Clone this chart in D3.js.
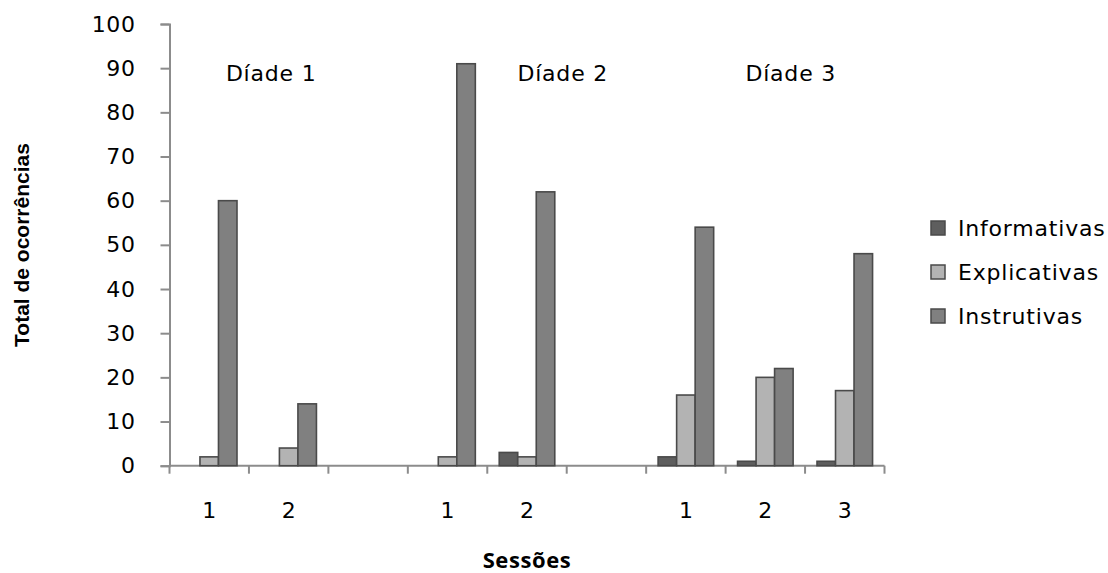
<!DOCTYPE html>
<html>
<head>
<meta charset="utf-8">
<script src="https://cdn.jsdelivr.net/npm/d3@7"></script>
<style>
  html, body { margin: 0; padding: 0; background: #fff; }
  svg { display: block; }
</style>
</head>
<body>
<svg id="chart" width="1108" height="573"></svg>
<script>
// Session labels along the x axis (blank slots separate the dyads)
const sessions = ["1", "2", "", "1", "2", "", "1", "2", "3"];
const seriesNames = ["Informativas", "Explicativas", "Instrutivas"];
const informativas = [0, 0, null, 0, 3, null, 2, 1, 1];
const explicativas = [2, 4, null, 2, 2, null, 16, 20, 17];
const instrutivas  = [60, 14, null, 91, 62, null, 54, 22, 48];
const yTicks = [0, 10, 20, 30, 40, 50, 60, 70, 80, 90, 100];
const groupLabels = ["Díade 1", "Díade 2", "Díade 3"];

const seriesValues = [informativas, explicativas, instrutivas];
const fills = ["#5e5e5e", "#b3b3b3", "#808080"];
const strokeCol = "#4a4a4a";

const svg = d3.select("#chart");
const plot = { left: 169.5, right: 884.5, top: 24, bottom: 465.7 };

const x = d3.scaleBand()
  .domain(d3.range(sessions.length))
  .range([plot.left, plot.right])
  .padding(0);

const xs = d3.scaleBand()
  .domain(d3.range(seriesNames.length))
  .range([0, x.bandwidth()])
  .paddingInner(0)
  .paddingOuter(0.645);

const y = d3.scaleLinear().domain([0, 100]).range([plot.bottom, plot.top]);

const axisColor = "#8c8c8c";
const font = "'DejaVu Sans', Verdana, sans-serif";
const textSize = "22px";
const spacing = "0.8px";

// Y axis
const yAxis = svg.append("g")
  .attr("transform", `translate(${plot.left},0)`)
  .call(d3.axisLeft(y).tickValues(yTicks).tickSize(9).tickPadding(25).tickFormat(d3.format("d")));
yAxis.select(".domain").attr("stroke", axisColor).attr("stroke-width", 2);
yAxis.selectAll(".tick line").attr("stroke", axisColor).attr("stroke-width", 2);
yAxis.selectAll(".tick text")
  .attr("fill", "#000")
  .style("font-family", font)
  .style("font-size", textSize)
  .style("letter-spacing", "0.6px");

// X axis: ticks at category boundaries, labels centred in each category
const boundaries = d3.range(sessions.length + 1).map(i => plot.left + i * x.step());
const xg = svg.append("g");
xg.append("line")
  .attr("x1", plot.left).attr("x2", plot.right)
  .attr("y1", plot.bottom).attr("y2", plot.bottom)
  .attr("stroke", axisColor).attr("stroke-width", 2);
xg.selectAll("line.tk").data(boundaries).join("line")
  .attr("class", "tk")
  .attr("x1", d => d).attr("x2", d => d)
  .attr("y1", plot.bottom).attr("y2", plot.bottom + 8)
  .attr("stroke", axisColor).attr("stroke-width", 2);
xg.selectAll("text").data(sessions).join("text")
  .attr("x", (d, i) => x(i) + x.bandwidth() / 2)
  .attr("y", 510)
  .attr("dy", "0.35em")
  .attr("text-anchor", "middle")
  .style("font-family", font)
  .style("font-size", textSize)
  .text(d => d);

// Bars
seriesValues.forEach((vals, s) => {
  svg.append("g").selectAll("rect")
    .data(vals.map((v, i) => ({ v, i })).filter(d => d.v))
    .join("rect")
    .attr("x", d => x(d.i) + xs(s))
    .attr("width", xs.bandwidth())
    .attr("y", d => y(d.v))
    .attr("height", d => y(0) - y(d.v))
    .attr("fill", fills[s])
    .attr("stroke", strokeCol)
    .attr("stroke-width", 1.6);
});

// Dyad labels (anchored at fractional band positions)
const groupAnchors = [1.28, 4.95, 7.82];
svg.append("g").selectAll("text").data(groupLabels).join("text")
  .attr("x", (d, i) => plot.left + groupAnchors[i] * x.step())
  .attr("y", 73)
  .attr("dy", "0.35em")
  .attr("text-anchor", "middle")
  .style("font-family", font)
  .style("font-size", textSize)
  .style("letter-spacing", spacing)
  .text(d => d);

// Axis titles
svg.append("text")
  .attr("transform", "translate(22,245) rotate(-90)")
  .attr("text-anchor", "middle")
  .attr("dy", "0.35em")
  .style("font-family", "'Liberation Sans', Arial, sans-serif")
  .style("font-weight", "bold")
  .style("font-size", "21px")
  .text("Total de ocorrências");

svg.append("text")
  .attr("x", 527)
  .attr("y", 568)
  .attr("text-anchor", "middle")
  .style("font-family", "'Open Sans', sans-serif")
  .style("font-weight", "bold")
  .style("font-size", "22px")
  .style("letter-spacing", "0.6px")
  .text("Sessões");

// Legend
const legend = svg.append("g").attr("transform", "translate(931,228)");
const row = legend.selectAll("g").data(seriesNames).join("g")
  .attr("transform", (d, i) => `translate(0,${i * 44})`);
row.append("rect")
  .attr("x", 0).attr("y", -7).attr("width", 14).attr("height", 14)
  .attr("fill", (d, i) => fills[i])
  .attr("stroke", strokeCol).attr("stroke-width", 1.5);
row.append("text")
  .attr("x", 27).attr("dy", "0.35em")
  .style("font-family", font)
  .style("font-size", textSize)
  .style("letter-spacing", spacing)
  .text(d => d);
</script>
</body>
</html>
